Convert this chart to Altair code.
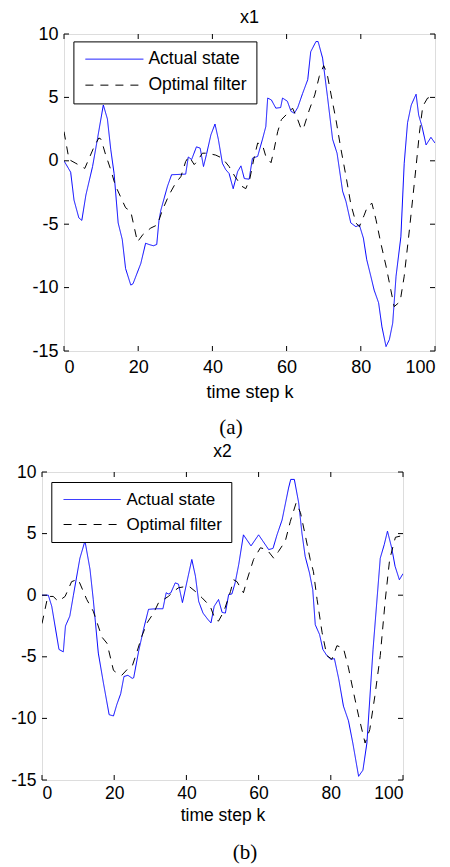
import altair as alt
import pandas as pd

SERIES = ["Actual state", "Optimal filter"]
X_TICKS = [0, 20, 40, 60, 80, 100]
Y_TICKS = [-15, -10, -5, 0, 5, 10]

# (k, value): x1
X1_ACTUAL = [(0,0),(1.8,-0.9),(2.7,-3.1),(4.0,-4.5),(4.8,-4.7),(5.9,-2.7),(7.7,-0.45),(9.0,1.7),(10.6,4.4),(11.7,3.3),
             (12.6,0.9),(13.5,-1.0),(14.6,-4.9),(15.7,-6.2),(16.6,-8.5),(18.0,-9.8),(18.6,-9.7),(20.7,-8.1),(22.0,-6.5),(22.9,-6.6),
             (24.1,-6.7),(25.0,-6.6),(25.6,-4.7),(26.1,-3.9),(27.9,-2.0),(29.0,-1.1),(32.8,-1.05),(33.5,0.3),(34.4,0.1),(35.7,1.1),
             (36.7,1.0),(37.6,-0.45),(38.4,0.5),(39.6,2.05),(40.7,2.9),(41.6,1.7),(42.7,-0.2),(43.6,-0.7),(44.5,-1.0),(45.6,-2.2),
             (46.8,-0.85),(47.7,-0.4),(48.6,-1.4),(49.9,-1.45),(50.8,0.2),(52.2,0.35),(53.5,1.7),(54.4,2.7),(54.9,4.95),(55.9,4.8),
             (57.1,4.15),(58.4,4.2),(58.9,4.95),(60.2,4.7),(61.2,3.9),(62.1,3.75),(63.0,4.2),(64.3,5.3),(65.7,6.4),(66.5,8.6),
             (67.9,9.4),(68.5,9.4),(69.7,8.1),(71.0,5.1),(72.4,1.7),(73.6,0.6),(75.1,-2.4),(76.0,-3.2),(77.3,-4.9),(78.7,-5.2),
             (79.6,-5.05),(80.7,-6.1),(81.6,-7.8),(82.7,-9.1),(83.6,-10.2),(84.8,-11.2),(85.7,-13.1),(86.8,-14.65),(87.7,-14.1),(88.6,-12.8),
             (89.5,-9.1),(90.8,-6.0),(91.7,-0.2),(92.6,3.0),(93.6,4.4),(94.9,5.25),(95.6,3.6),(96.5,2.7),(97.6,1.25),(98.9,1.85),(100,1.4)]
X1_FILTER = [(0,2.3),(1.35,0.1),(3.2,-0.2),(5.6,-0.6),(8.1,1.1),(9.4,1.8),(10,1.7),(11.2,0.5),(12.6,-0.7),(13.9,-2.0),
             (14.4,-2.3),(16.6,-3.7),(18,-4.0),(19.8,-6.4),(21.3,-5.8),(23.4,-5.3),(25.2,-5.05),(26.5,-3.9),(28.3,-2.7),(30.1,-1.75),
             (31.5,-1.25),(32.8,-0.05),(33.7,0.35),(35.1,-0.3),(36,0.0),(37.3,0.6),(38.6,0.6),(40.9,0.45),(42.7,0.2),(44.5,-0.45),
             (46.1,-1.25),(47.9,-2.0),(49,-2.2),(50.1,-1.4),(51.2,0.2),(52.2,1.4),(53.5,1.25),(54.4,0.35),(55.8,-0.15),(56.6,0.85),
             (57.6,2.3),(58.6,3.25),(60.3,3.75),(61.6,4.15),(63,3.25),(64,2.45),(64.7,2.7),(66.1,4.0),(67.6,5.2),(68.8,6.65),
             (70,7.5),(70.9,6.9),(72,5.2),(73.3,3.25),(74.6,1.0),(76,-1.2),(77.3,-3.4),(78.7,-4.9),(79.6,-5.2),(80.9,-4.3),
             (81.8,-3.6),(83,-3.35),(84.1,-4.65),(85.4,-6.5),(86.8,-8.3),(88.1,-10.2),(89,-11.5),(90.6,-11.1),(91.7,-9.1),(93.1,-5.45),
             (94.9,-0.45),(95.8,2.2),(96.7,4.3),(98,4.95),(100,5.1)]

# (k, value): x2
X2_ACTUAL = [(0,0),(1.75,0),(2.7,-0.9),(4.7,-4.4),(5.9,-4.6),(6.5,-2.5),(7.7,-1.7),(8.7,0),(10.5,3.0),(11.9,4.4),
             (13.3,2.1),(14.2,-0.35),(15.6,-4.7),(17,-7.1),(18.6,-9.7),(19.8,-9.8),(20.7,-8.9),(21.8,-8.0),(22.7,-6.6),(23.8,-6.5),
             (25,-6.75),(25.4,-6.7),(26.8,-4.5),(28.1,-2.8),(29.5,-1.15),(31.4,-1.1),(33.5,-1.1),(34.4,0.2),(35,0.1),(35.7,0.2),
             (36.9,1.0),(37.8,0.9),(38.9,-0.6),(39.9,0.75),(41.5,2.9),(42.5,1.55),(43.4,-0.5),(44.6,-1.45),(45.9,-1.95),(46.8,-2.25),
             (47.7,-0.9),(48.9,-0.35),(49.9,-1.4),(50.8,-1.45),(51.7,0.05),(52.6,0.1),(53.5,1.0),(54.5,2.5),(55.8,4.9),(57.9,4.0),
             (60,4.9),(61.4,4.3),(62.8,3.7),(64,3.8),(65.1,4.9),(66.5,6.1),(68.3,8.7),(68.9,9.4),(69.9,9.4),(71.1,7.5),
             (72,5.05),(72.9,3.15),(74.1,1.8),(75,0.45),(75.7,-2.4),(76.9,-3.2),(77.8,-4.4),(78.9,-4.9),(80,-5.2),(81,-5.15),
             (82.2,-6.8),(83.5,-9.0),(84.9,-10.2),(86.1,-12.0),(87.7,-14.7),(88.9,-14.2),(90,-12.0),(91.7,-4.4),(93.7,3.0),(94.8,4.1),
             (95.7,5.2),(96.9,3.8),(97.8,2.35),(99,1.25),(100,1.75)]
X2_FILTER = [(0,-2.3),(1.6,-0.1),(3.1,-0.1),(4.5,-0.5),(6.4,-0.1),(8.2,1.1),(10,1.3),(12.4,-0.35),(14.2,-1.3),(16.6,-3.4),
             (18,-3.9),(19.8,-6.1),(21.1,-6.4),(22.1,-6.5),(24,-5.9),(25,-5.75),(26.3,-4.6),(27.7,-3.3),(29.1,-2.25),(30.9,-1.45),
             (32.3,-0.6),(33.7,-0.35),(35,-0.1),(36.4,0.3),(37.8,0.6),(40.6,0.75),(42.5,0.3),(44.3,-0.2),(46.6,-0.9),(48,-2.0),
             (48.9,-2.1),(50.4,-1.3),(52.2,0.3),(53.1,1.25),(54,1.1),(55.8,0.2),(56.8,1.25),(58.6,2.9),(60.5,3.85),(62.3,3.7),
             (64.2,3.0),(65.5,3.55),(67.4,4.4),(68.8,6.0),(70.4,7.5),(71.6,6.7),(72.9,4.9),(74.3,2.9),(75.2,1.9),(76.2,-0.35),
             (77.6,-3.05),(78.9,-4.9),(80.3,-5.2),(81.7,-4.1),(83.5,-4.3),(84.9,-5.9),(86.3,-7.9),(87.7,-9.8),(89.5,-12.0),(90.8,-10.9),
             (92.2,-8.2),(93.7,-4.9),(95.1,-0.35),(96.3,2.9),(97.9,4.7),(100,4.85)]

SANS = "Liberation Sans"
SERIF = "Liberation Serif"


def panel(name, actual, filt, W, H, fs, lfs, tag, tag_x, tag_y, leg_x, leg_y,
          sym_len, lab_pad, title_pad, sym_off, label_off, title_off):
    df = pd.concat([
        pd.DataFrame({"k": [p[0] for p in actual], "v": [p[1] for p in actual], "series": SERIES[0]}),
        pd.DataFrame({"k": [p[0] for p in filt], "v": [p[1] for p in filt], "series": SERIES[1]}),
    ])
    xs = alt.Scale(domain=[0, 100], nice=False, zero=False)
    ys = alt.Scale(domain=[-15, 10], nice=False, zero=False)
    x_axis = alt.Axis(
        values=X_TICKS, ticks=False, tickSize=0, grid=False, domain=False,
        labelFont=SANS, labelFontSize=fs, labelColor="black", labelPadding=lab_pad,
        title="time step k", titleFont=SANS, titleFontSize=fs, titleFontWeight="normal",
        titleColor="black", titlePadding=title_pad)
    y_axis = alt.Axis(
        values=Y_TICKS, ticks=False, tickSize=0, grid=False, domain=False,
        labelFont=SANS, labelFontSize=fs, labelColor="black", labelPadding=6,
        labelExpr="toString(datum.value)", title="")
    d = sym_len / 3.0
    leg = alt.Legend(title=None, orient="none", legendX=leg_x, legendY=leg_y,
                     fillColor="white", strokeColor="black", padding=9,
                     symbolType="M-3,0L3,0", symbolSize=d * d, symbolStrokeWidth=1,
                     symbolOffset=sym_off, clipHeight=lfs, rowPadding=7, labelOffset=label_off,
                     labelFont=SANS, labelFontSize=lfs, labelColor="black", cornerRadius=0)
    lines = alt.Chart(df).mark_line(strokeWidth=1, clip=True).encode(
        x=alt.X("k:Q", scale=xs, axis=x_axis, title="time step k"),
        y=alt.Y("v:Q", scale=ys, axis=y_axis, title=""),
        color=alt.Color("series:N", scale=alt.Scale(domain=SERIES, range=["#0000ff", "#000000"]), legend=leg),
        strokeDash=alt.StrokeDash("series:N", scale=alt.Scale(domain=SERIES, range=[[1, 0], [8, 7]]), legend=leg),
    )
    xt = pd.DataFrame({"k": X_TICKS})
    yt = pd.DataFrame({"v": Y_TICKS})
    tx = alt.X("k:Q", scale=xs, axis=x_axis, title="time step k")
    ty = alt.Y("v:Q", scale=ys, axis=y_axis, title="")
    top_t = alt.Chart(xt).mark_rule(color="black", strokeWidth=1).encode(x=tx, y=alt.value(0), y2=alt.value(5))
    bot_t = alt.Chart(xt).mark_rule(color="black", strokeWidth=1).encode(x=tx, y=alt.value(H), y2=alt.value(H - 5))
    lef_t = alt.Chart(yt).mark_rule(color="black", strokeWidth=1).encode(y=ty, x=alt.value(0), x2=alt.value(5))
    rig_t = alt.Chart(yt).mark_rule(color="black", strokeWidth=1).encode(y=ty, x=alt.value(W - 5), x2=alt.value(W))
    tag_c = alt.Chart(pd.DataFrame({"tag": [tag]})).mark_text(
        font=SERIF, fontSize=21, color="black", baseline="alphabetic", align="center"
    ).encode(text="tag:N", x=alt.value(tag_x), y=alt.value(tag_y))
    return alt.layer(lines, top_t, bot_t, lef_t, rig_t, tag_c).properties(
        width=W, height=H,
        title=alt.Title(name, font=SANS, fontSize=fs, fontWeight="normal", color="black",
                        baseline="alphabetic", offset=title_off, anchor="middle"),
    )


def spacer(w):
    return alt.Chart(pd.DataFrame({"s": [0]})).mark_rule(strokeOpacity=0).encode(
        x=alt.value(0), y=alt.value(0), y2=alt.value(1)
    ).properties(width=w, height=1, view=alt.ViewBackground(strokeOpacity=0, fillOpacity=0))


top = panel("x1", X1_ACTUAL, X1_FILTER, 371, 317, 18, 17.5, "(a)", 167, 400, 9.4, 7.4, 58, 7.5, 7, 21.5, 23.5, -16)
bottom = panel("x2", X2_ACTUAL, X2_FILTER, 361, 308, 17.5, 17, "(b)", 203, 387, 9.3, 10, 57, 4, 5, 21.8, 24.4, -11)

row1 = alt.hconcat(spacer(22), top, spacing=0).resolve_legend(
    color="independent", strokeDash="independent").resolve_scale(color="independent", strokeDash="independent")
row2 = alt.hconcat(spacer(1), bottom, spacing=0).resolve_legend(
    color="independent", strokeDash="independent").resolve_scale(color="independent", strokeDash="independent")

chart = alt.concat(row1, row2, columns=1, spacing=3).resolve_legend(
    color="independent", strokeDash="independent"
).resolve_scale(
    color="independent", strokeDash="independent"
).properties(
    padding={"left": 1, "top": 0, "right": 0, "bottom": 0}
).configure_view(stroke="black", strokeWidth=1).configure(background="white")

chart.save("out.html", embed_options={"renderer": "svg", "actions": False})
